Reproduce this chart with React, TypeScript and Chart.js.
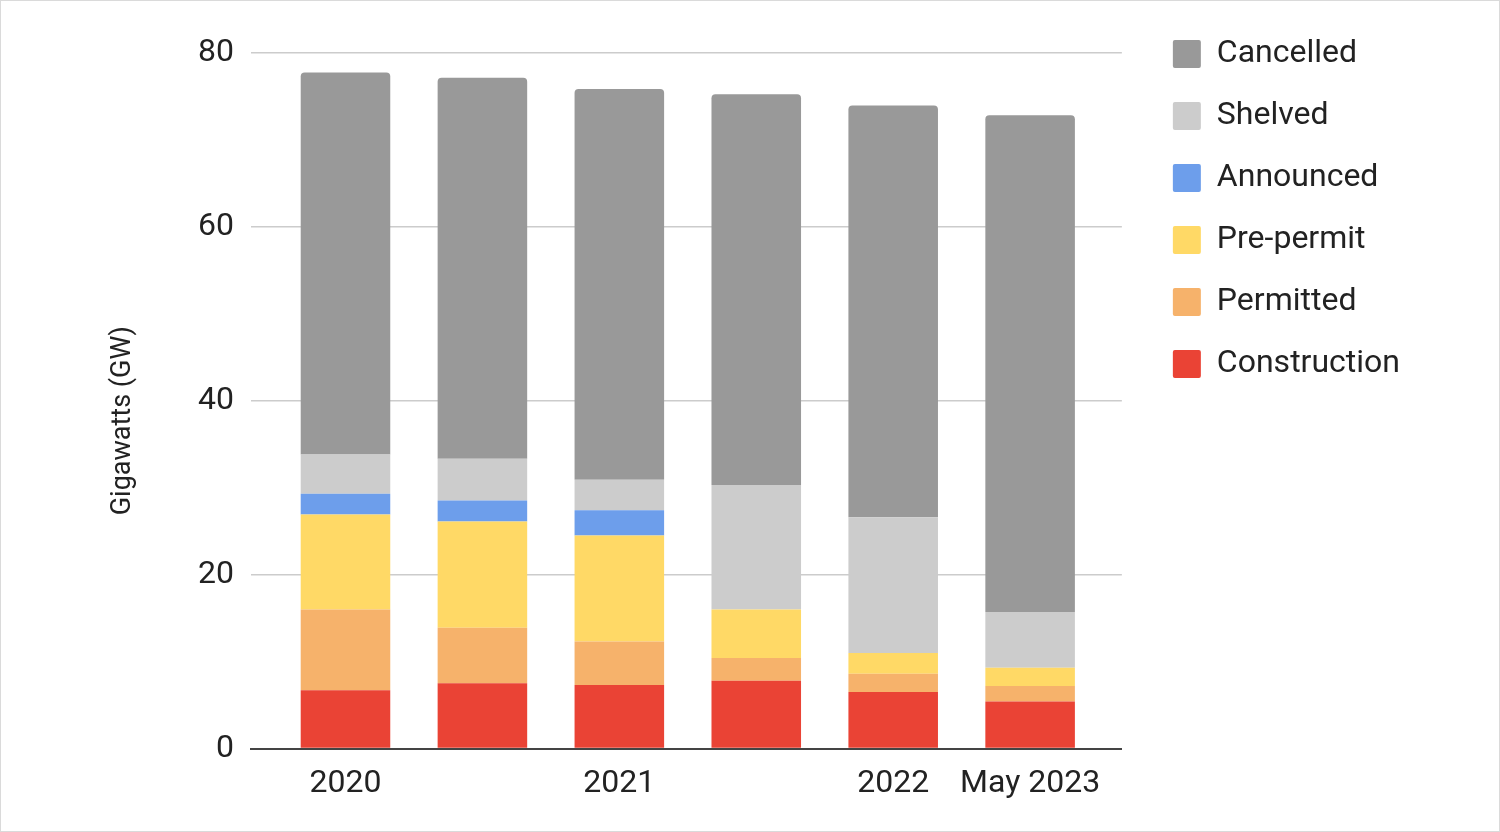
import React, { useEffect, useRef } from 'react';
import { Chart, registerables } from 'chart.js';

Chart.register(...registerables);

// ---- data ----
const categories = ['2020', '', '2021', '', '2022', 'May 2023'];
const construction = [6.7, 7.5, 7.3, 7.8, 6.5, 5.4];
const permitted = [9.3, 6.4, 5.0, 2.6, 2.1, 1.8];
const prePermit = [10.9, 12.2, 12.2, 5.6, 2.4, 2.1];
const announced = [2.4, 2.4, 2.9, 0, 0, 0];
const shelved = [4.5, 4.8, 3.5, 14.3, 15.6, 6.4];
const cancelled = [43.9, 43.8, 44.9, 44.9, 47.3, 57.1];
const yTicks = [0, 20, 40, 60, 80];

const seriesNames = ['Construction', 'Permitted', 'Pre-permit', 'Announced', 'Shelved', 'Cancelled'];
const seriesValues = [construction, permitted, prePermit, announced, shelved, cancelled];
const seriesColors = ['#ea4335', '#f6b26b', '#ffd966', '#6d9eeb', '#cccccc', '#999999'];

const yTitle = 'Gigawatts (GW)';

const FONT = 'Roboto';
const TEXT = '#222222';

const legendNudge = {
  id: 'legendNudge',
  afterLayout(chart: any) {
    const l = chart.legend;
    if (l) {
      l.left += 21;
      l.right += 21;
    }
  },
};

export default function App() {
  const ref = useRef<HTMLCanvasElement>(null);

  useEffect(() => {
    const datasets = seriesNames.map((name, si) => ({
      label: name,
      data: seriesValues[si].map((v, i) => ({ x: i, y: v })),
      backgroundColor: seriesColors[si],
      borderColor: seriesColors[si],
      borderWidth: 0,
      borderRadius:
        si === seriesNames.length - 1
          ? { topLeft: 4, topRight: 4, bottomLeft: 0, bottomRight: 0 }
          : 0,
      borderSkipped: false as any,
      categoryPercentage: 1,
      barPercentage: 0.654,
    }));

    const chart = new Chart(ref.current as HTMLCanvasElement, {
      type: 'bar',
      data: { datasets } as any,
      plugins: [legendNudge],
      options: {
        animation: false,
        responsive: false,
        events: [],
        layout: { padding: { top: 7, right: 110, bottom: 12, left: 0 } },
        plugins: {
          tooltip: { enabled: false },
          title: { display: false },
          legend: {
            position: 'right',
            align: 'start',
            reverse: true,
            labels: {
              boxWidth: 28,
              boxHeight: 28,
              padding: 30,
              color: TEXT,
              useBorderRadius: true,
              borderRadius: 2,
              font: { family: FONT, size: 32 },
            },
          },
        },
        scales: {
          x: {
            type: 'linear',
            stacked: true,
            min: -0.69,
            max: 5.67,
            bounds: 'data',
            offset: false,
            grid: { display: false, offset: false, drawTicks: false },
            border: { display: true, color: '#444444', width: 2 },
            afterBuildTicks: (s: any) => {
              s.ticks = categories.map((_, i) => ({ value: i }));
            },
            ticks: {
              autoSkip: false,
              maxRotation: 0,
              minRotation: 0,
              padding: 16,
              color: TEXT,
              font: { family: FONT, size: 32 },
              callback: (v: any) => categories[Math.round(Number(v))] ?? '',
            },
          } as any,
          y: {
            stacked: true,
            min: 0,
            max: 80,
            afterBuildTicks: (s: any) => {
              s.ticks = yTicks.map((v) => ({ value: v }));
            },
            afterFit: (s: any) => {
              s.width = 250;
              s.paddingTop = 51.5;
            },
            grid: { color: '#cccccc', lineWidth: 1.5, drawTicks: false },
            border: { display: false },
            ticks: {
              padding: 17,
              color: TEXT,
              font: { family: FONT, size: 32 },
            },
            title: {
              display: true,
              text: yTitle + '      ',
              color: TEXT,
              font: { family: FONT, size: 27 },
              padding: { top: 106, bottom: 10 },
            },
          } as any,
        },
      },
    });
    return () => chart.destroy();
  }, []);

  return (
    <div
      style={{
        position: 'absolute',
        left: 0,
        top: 0,
        width: 1500,
        height: 832,
        boxSizing: 'border-box',
        border: '1px solid #dadada',
        background: '#ffffff',
      }}
    >
      <canvas
        ref={ref}
        width={1498}
        height={830}
        style={{ display: 'block', width: 1498, height: 830 }}
      />
    </div>
  );
}
